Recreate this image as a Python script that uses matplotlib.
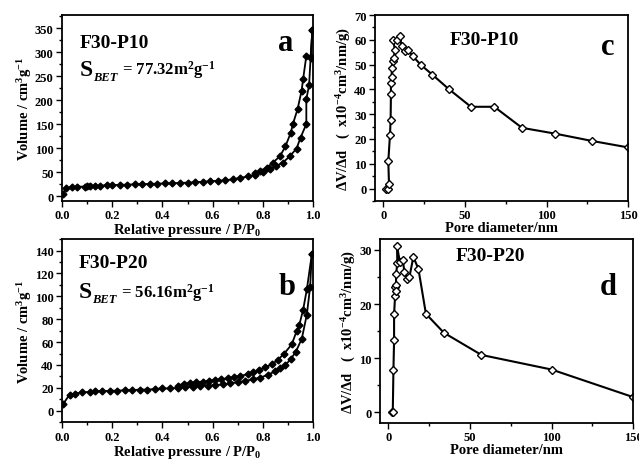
import matplotlib
matplotlib.use("Agg")
import matplotlib.pyplot as plt
from matplotlib.ticker import MultipleLocator

plt.rcParams["font.family"] = ["Liberation Serif", "DejaVu Serif"]
plt.rcParams["font.weight"] = "bold"
plt.rcParams["mathtext.fontset"] = "custom"
plt.rcParams["mathtext.rm"] = "Liberation Serif:bold"
plt.rcParams["mathtext.it"] = "Liberation Serif:italic:bold"
plt.rcParams["mathtext.bf"] = "Liberation Serif:bold"

# panel a: F30-P10 isotherm
p10_ads_x = [0.005, 0.015, 0.04, 0.06, 0.09, 0.10, 0.11, 0.13, 0.15, 0.18, 0.20, 0.23, 0.26, 0.29,
             0.32, 0.35, 0.38, 0.41, 0.44, 0.47, 0.50, 0.53, 0.56, 0.59, 0.62, 0.65, 0.68, 0.71,
             0.74, 0.77, 0.80, 0.83, 0.854, 0.88, 0.907, 0.934, 0.95, 0.973, 0.973, 0.984, 0.99, 0.997]
p10_ads_y = [5, 16, 19, 19.5, 20, 20.5, 21, 21.5, 22, 22.5, 23, 23.5, 24, 24.5,
             25, 25.5, 26, 26.5, 27, 27.5, 28, 29, 30, 31, 32, 33, 35, 38,
             41, 45, 50, 56, 63, 70, 83, 99, 122, 150, 202, 231, 288, 345]
p10_des_x = [0.997, 0.99, 0.973, 0.96, 0.954, 0.938, 0.92, 0.911, 0.89, 0.868, 0.84, 0.815, 0.79, 0.77]
p10_des_y = [345, 290, 292, 243, 219, 181, 151, 132, 104, 83, 70, 59, 53, 48]

# panel b: F30-P20 isotherm
p20_ads_x = [0.005, 0.03, 0.05, 0.08, 0.11, 0.13, 0.16, 0.19, 0.22, 0.25, 0.28, 0.31, 0.34, 0.37,
             0.40, 0.43, 0.46, 0.49, 0.52, 0.55, 0.58, 0.61, 0.64, 0.67, 0.70, 0.73, 0.76, 0.79,
             0.82, 0.85, 0.87, 0.89, 0.91, 0.93, 0.955, 0.975, 0.988, 0.995]
p20_ads_y = [6, 14, 15, 16, 16.5, 17, 17, 17.5, 17.5, 18, 18, 18.5, 18.5, 19,
             19.5, 19.5, 20, 20.5, 21, 21.5, 22, 22.5, 23, 24, 25, 26, 27.5, 29,
             31.5, 34.5, 37, 40, 45, 51, 63, 84, 108, 137]
p20_des_x = [0.995, 0.975, 0.96, 0.945, 0.935, 0.915, 0.885, 0.86, 0.835, 0.81, 0.785, 0.76, 0.74,
             0.71, 0.685, 0.66, 0.635, 0.61, 0.585, 0.56, 0.535, 0.51, 0.485, 0.46]
p20_des_y = [137, 106, 88, 75, 70, 58, 50, 44.5, 40.5, 38, 35.5, 33.5, 32, 30.5, 29.5, 28.5, 27.5,
             27, 26, 25.5, 25, 24.5, 23.5, 22]

# panel c: F30-P10 pore size distribution
c_d = [1.6, 2.7, 3.5, 3.1, 4.1, 4.5, 4.7, 4.7, 5.1, 5.3, 5.7, 6.5, 7.1, 6.1, 8.6, 10.2, 11.2,
       13.3, 15.3, 18.0, 22.9, 30.0, 40.4, 53.7, 68.0, 85.0, 105.0, 128.0, 150.0]
c_v = [-0.3, -0.3, 2.0, 11.0, 21.5, 27.5, 38.0, 42.5, 45.0, 48.5, 51.5, 52.5, 56.0, 60.0, 60.0,
       61.5, 57.5, 55.5, 55.8, 53.5, 50.0, 46.0, 40.0, 33.0, 33.0, 24.5, 22.2, 19.2, 16.6]

# panel d: F30-P20 pore size distribution
d_d = [2.0, 2.7, 3.1, 3.5, 3.5, 4.1, 4.1, 4.5, 4.7, 4.7, 5.5, 5.3, 7.1, 8.8, 9.8, 11.6, 12.9,
       15.3, 18.4, 23.0, 34.0, 57.0, 100.0, 150.0]
d_v = [0.0, 0.0, 7.8, 13.3, 18.1, 21.4, 23.2, 23.5, 22.4, 25.5, 27.5, 30.7, 27.7, 28.2, 26.0,
       24.6, 25.0, 28.7, 26.5, 18.2, 14.7, 10.6, 7.9, 2.8]

fig = plt.figure(figsize=(6.39, 4.60), dpi=100)
ax_a = fig.add_axes([0.097, 0.561, 0.393, 0.404])
ax_c = fig.add_axes([0.587, 0.561, 0.396, 0.404])
ax_b = fig.add_axes([0.097, 0.080, 0.393, 0.398])
ax_d = fig.add_axes([0.595, 0.078, 0.396, 0.400])


def style(ax):
    for s in ax.spines.values():
        s.set_linewidth(1.3)
    ax.tick_params(which="both", direction="out", top=False, right=False,
                   labelsize=9, width=1.0, pad=2)
    ax.tick_params(which="major", length=4)
    ax.tick_params(which="minor", length=2.5)
    for lbl in ax.get_xticklabels() + ax.get_yticklabels():
        lbl.set_fontweight("bold")


def isotherm(ax, ax_x, ax_y, de_x, de_y):
    ax.plot(ax_x, ax_y, "-D", color="black", ms=3.5, lw=1.3)
    ax.plot(de_x, de_y, "-D", color="black", ms=3.5, lw=1.3)
    ax.set_xlim(0, 1.0)
    ax.xaxis.set_major_locator(MultipleLocator(0.2))
    ax.xaxis.set_minor_locator(MultipleLocator(0.1))
    ax.xaxis.set_major_formatter(plt.FormatStrFormatter("%.1f"))
    ax.set_xlabel("Relative pressure / P/P$_{0}$", fontsize=10.5, fontweight="bold", labelpad=0)
    ax.set_ylabel("Volume / cm$^{3}$g$^{-1}$", fontsize=10.5, fontweight="bold", labelpad=1)


def psd(ax, d, v):
    ax.plot(d, v, "-D", color="black", ms=4, lw=1.5, mfc="white", mew=1.0)
    ax.set_xlim(-5, 150)
    ax.xaxis.set_major_locator(MultipleLocator(50))
    ax.xaxis.set_minor_locator(MultipleLocator(25))
    ax.yaxis.set_minor_locator(MultipleLocator(5))
    ax.set_xlabel("Pore diameter/nm", fontsize=10.5, fontweight="bold", labelpad=0)
    ax.set_ylabel("ΔV/Δd   (  x10$^{-4}$cm$^{3}$/nm/g)", fontsize=10.5, fontweight="bold", labelpad=1)


def bet_label(ax, x, y, value):
    # big S, italic BET subscript, then the value on the S baseline
    s = ax.text(x, y, "S", transform=ax.transAxes, fontsize=17, fontweight="bold",
                va="baseline")
    sub = ax.annotate("BET", xy=(1, 0), xycoords=s, xytext=(0.5, 0), textcoords="offset points",
                      fontsize=9, fontstyle="italic", fontweight="bold", va="baseline", ha="left")
    ax.annotate(" = " + value + "m$^{2}$g$^{-1}$", xy=(1, 0), xycoords=(sub, s),
                xytext=(0, 4), textcoords="offset points",
                fontsize=12, va="baseline", ha="left")


isotherm(ax_a, p10_ads_x, p10_ads_y, p10_des_x, p10_des_y)
ax_a.set_ylim(-10, 377)
ax_a.yaxis.set_major_locator(MultipleLocator(50))
ax_a.yaxis.set_minor_locator(MultipleLocator(25))
ax_a.text(0.07, 0.855, "F30-P10", transform=ax_a.transAxes, fontsize=14, fontweight="bold", va="center")
bet_label(ax_a, 0.07, 0.68, "77.32")
ax_a.text(0.89, 0.855, "a", transform=ax_a.transAxes, fontsize=22, fontweight="bold",
          ha="center", va="center")

isotherm(ax_b, p20_ads_x, p20_ads_y, p20_des_x, p20_des_y)
ax_b.set_ylim(-10, 150)
ax_b.yaxis.set_major_locator(MultipleLocator(20))
ax_b.yaxis.set_minor_locator(MultipleLocator(10))
ax_b.text(0.065, 0.87, "F30-P20", transform=ax_b.transAxes, fontsize=14, fontweight="bold", va="center")
bet_label(ax_b, 0.065, 0.685, "56.16")
ax_b.text(0.895, 0.74, "b", transform=ax_b.transAxes, fontsize=22, fontweight="bold",
          ha="center", va="center")

psd(ax_c, c_d, c_v)
ax_c.set_ylim(-5, 70)
ax_c.yaxis.set_major_locator(MultipleLocator(10))
ax_c.text(0.43, 0.87, "F30-P10", transform=ax_c.transAxes, fontsize=14, fontweight="bold",
          ha="center", va="center")
ax_c.text(0.92, 0.83, "c", transform=ax_c.transAxes, fontsize=22, fontweight="bold",
          ha="center", va="center")

psd(ax_d, d_d, d_v)
ax_d.set_ylim(-2, 32)
ax_d.yaxis.set_major_locator(MultipleLocator(10))
ax_d.text(0.435, 0.91, "F30-P20", transform=ax_d.transAxes, fontsize=14, fontweight="bold",
          ha="center", va="center")
ax_d.text(0.90, 0.74, "d", transform=ax_d.transAxes, fontsize=22, fontweight="bold",
          ha="center", va="center")

for ax in (ax_a, ax_b, ax_c, ax_d):
    style(ax)

fig.savefig("out.png", dpi=100)
